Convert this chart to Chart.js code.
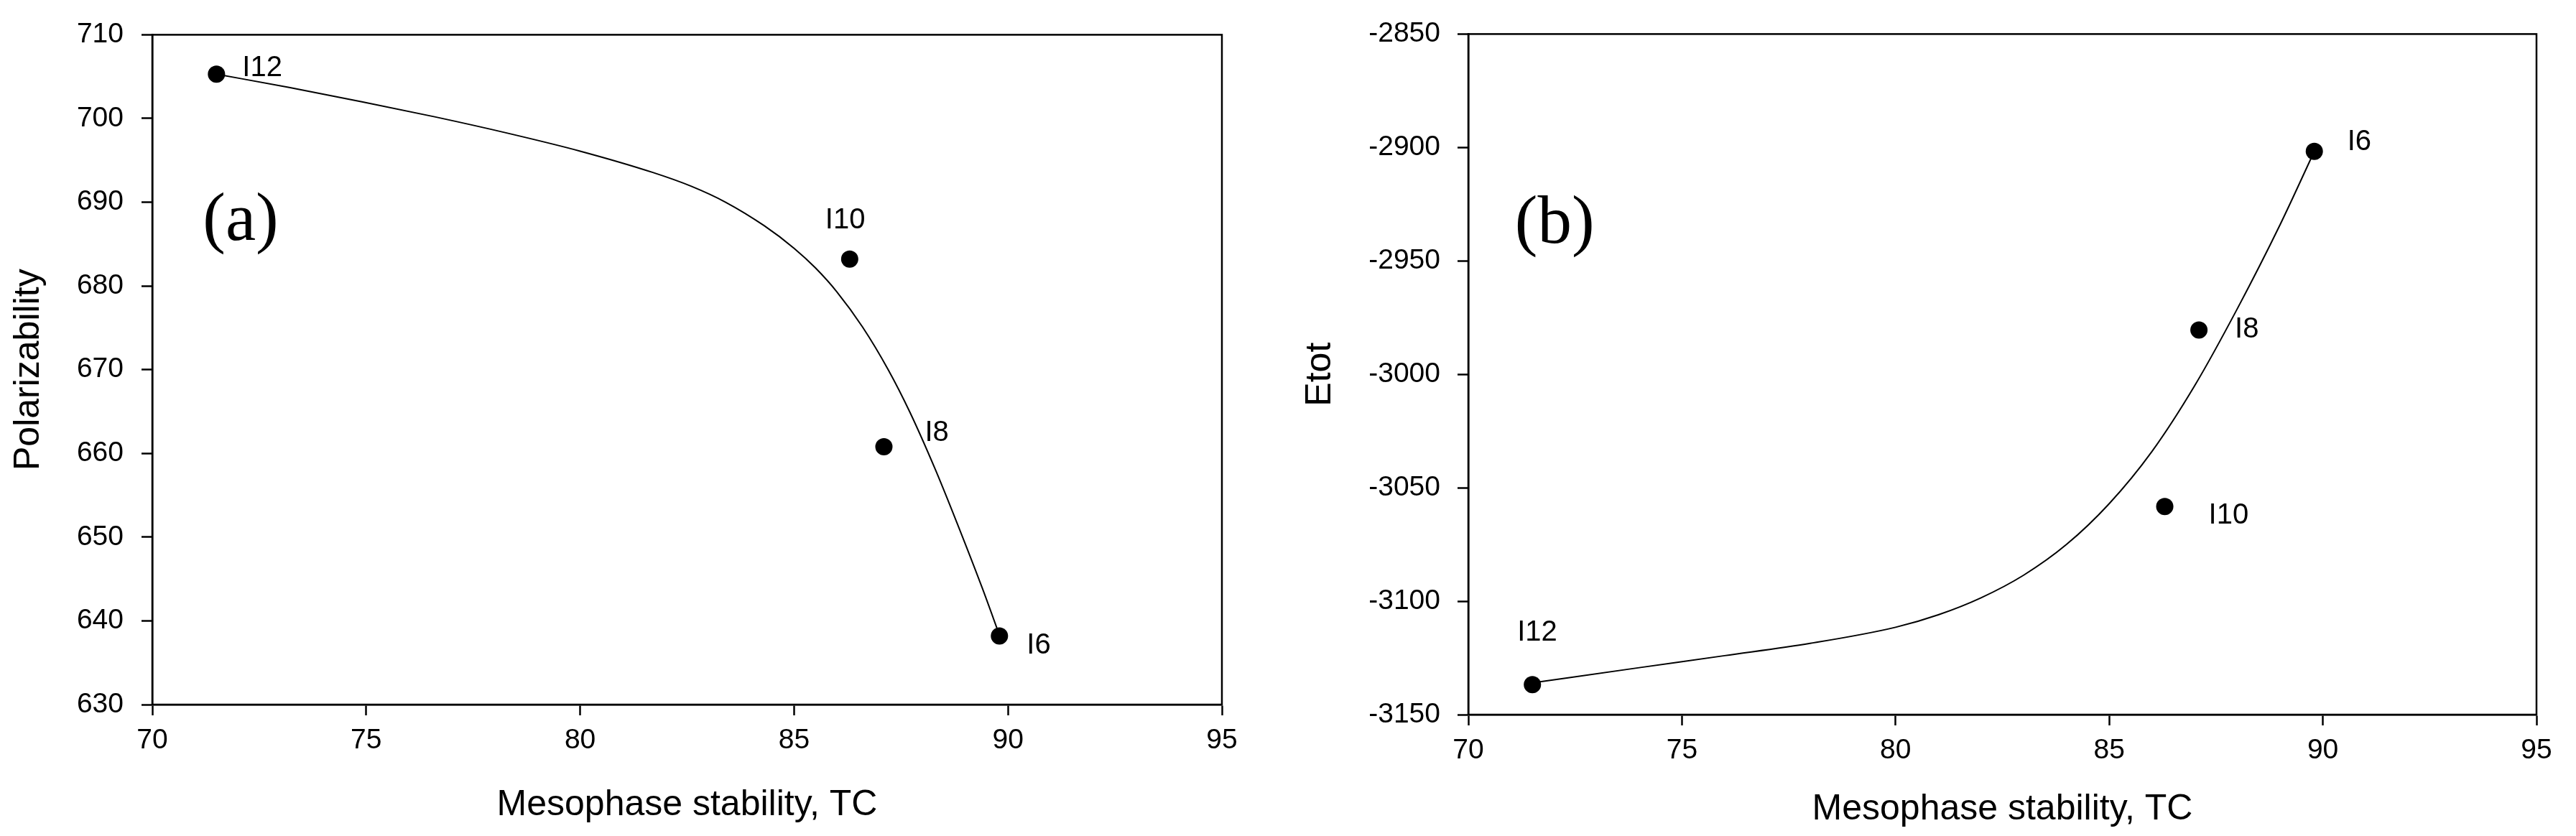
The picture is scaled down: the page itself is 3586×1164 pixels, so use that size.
<!DOCTYPE html>
<html>
<head>
<meta charset="utf-8">
<script src="https://cdn.jsdelivr.net/npm/chart.js@4.4.1/dist/chart.umd.min.js"></script>
<style>
  html, body { margin: 0; padding: 0; background: #fff; }
  body { width: 3586px; height: 1164px; position: relative; overflow: hidden; }
  .panel { position: absolute; top: 0; height: 1164px; }
  #panelA { left: 0; width: 1790px; }
  #panelB { left: 1790px; width: 1796px; }
</style>
</head>
<body>
<div class="panel" id="panelA"><canvas id="chartA" width="1790" height="1164"></canvas></div>
<div class="panel" id="panelB"><canvas id="chartB" width="1796" height="1164"></canvas></div>
<script>
// compounds and measured values
const compounds = ['I12', 'I10', 'I8', 'I6'];
const mesophaseTC = [71.5, 86.3, 87.1, 89.8];
const polarizability = [705.3, 683.2, 660.8, 638.2];
const etot = [-3136.8, -3058.3, -2980.5, -2901.7];

// fitted curves
const fitPolX = [71.5, 73.2, 74.9, 76.6, 78.3, 80.0, 81.7, 82.6, 83.4, 84.3, 85.0, 85.5, 86.0, 86.6, 87.2, 87.7, 88.3, 88.8, 89.4, 89.8];
const fitPolY = [705.3, 703.7, 702.0, 700.2, 698.25, 696.1, 693.55, 691.9, 690.0, 687.2, 684.5, 682.15, 679.3, 675.1, 670.0, 665.0, 658.1, 651.8, 643.9, 638.3];
const fitEtotX = [71.5, 74.0, 76.0, 78.0, 80.0, 81.0, 82.0, 83.0, 84.0, 85.0, 86.0, 87.0, 88.0, 89.0, 89.8];
const fitEtotY = [-3136.0, -3129.3, -3124.0, -3118.6, -3111.5, -3106.0, -3098.5, -3088.5, -3075.0, -3057.0, -3034.0, -3005.0, -2971.0, -2934.0, -2901.7];

// axis ticks
const xTicks = [70, 75, 80, 85, 90, 95];
const polTicks = [630, 640, 650, 660, 670, 680, 690, 700, 710];
const etotTicks = [-3150, -3100, -3050, -3000, -2950, -2900, -2850];

const SANS = '"Liberation Sans", Arial, sans-serif';

const zip = (xs, ys) => xs.map((x, i) => ({ x: x, y: ys[i] }));

//-----------------Plugins-------------------//
const frame = {
  id: 'frame',
  afterDraw(chart) {
    const { ctx, chartArea: a } = chart;
    ctx.save();
    ctx.strokeStyle = '#000';
    ctx.lineWidth = 2.5;
    ctx.strokeRect(a.left, a.top, a.right - a.left, a.bottom - a.top);
    ctx.restore();
  }
};

const pointTags = {
  id: 'pointTags',
  afterDatasetsDraw(chart, args, opts) {
    const ctx = chart.ctx;
    const meta = chart.getDatasetMeta(0);
    ctx.save();
    ctx.fillStyle = '#000';
    ctx.textAlign = 'left';
    ctx.textBaseline = 'alphabetic';
    ctx.font = '40px ' + SANS;
    meta.data.forEach((pt, i) => {
      const off = opts.offsets[i];
      ctx.fillText(compounds[i], pt.x + off[0], pt.y + off[1]);
    });
    ctx.font = '95px "Liberation Serif", "Times New Roman", serif';
    ctx.fillText(opts.panel,
      chart.scales.x.getPixelForValue(opts.panelAt[0]),
      chart.scales.y.getPixelForValue(opts.panelAt[1]));
    ctx.restore();
  }
};
//-----------------Plugins-------------------//

function axisGrid() {
  return { display: true, drawOnChartArea: false, drawTicks: true, tickLength: 15, tickWidth: 2.5, tickColor: '#000' };
}

function makeChart(id, cfg) {
  return new Chart(document.getElementById(id), {
    type: 'scatter',
    data: {
      datasets: [
        {
          data: zip(mesophaseTC, cfg.values),
          showLine: false,
          pointRadius: 12,
          pointHoverRadius: 12,
          pointBackgroundColor: '#000',
          pointBorderWidth: 0,
          order: 0
        },
        {
          data: zip(cfg.fitX, cfg.fitY),
          showLine: true,
          borderColor: '#000',
          borderWidth: 2,
          pointRadius: 0,
          cubicInterpolationMode: 'monotone',
          fill: false,
          order: 1
        }
      ]
    },
    options: {
      responsive: false,
      animation: false,
      devicePixelRatio: 1,
      layout: { padding: cfg.padding },
      plugins: {
        legend: { display: false },
        tooltip: { enabled: false },
        pointTags: { offsets: cfg.tagOffsets, panel: cfg.panel, panelAt: cfg.panelAt }
      },
      scales: {
        x: {
          type: 'linear',
          min: xTicks[0],
          max: xTicks[xTicks.length - 1],
          afterBuildTicks: s => { s.ticks = xTicks.map(v => ({ value: v })); },
          afterFit: s => { s.height = cfg.xHeight; },
          grid: axisGrid(),
          border: { display: true, color: '#000', width: 2.5 },
          ticks: { color: '#000', padding: 12, font: { family: SANS, size: 39 }, callback: v => String(v) },
          title: {
            display: true,
            text: 'Mesophase stability, TC',
            color: '#000',
            font: { family: SANS, size: 50, lineHeight: 1.2 },
            padding: { top: 0, bottom: cfg.xTitlePad }
          }
        },
        y: {
          type: 'linear',
          min: cfg.yTicks[0],
          max: cfg.yTicks[cfg.yTicks.length - 1],
          afterBuildTicks: s => { s.ticks = cfg.yTicks.map(v => ({ value: v })); },
          afterFit: s => { s.width = cfg.yWidth; },
          grid: axisGrid(),
          border: { display: true, color: '#000', width: 2.5 },
          ticks: { color: '#000', padding: cfg.yTickPad, font: { family: SANS, size: 39 }, callback: v => String(v) },
          title: {
            display: true,
            text: cfg.yTitle,
            color: '#000',
            font: { family: SANS, size: 50, lineHeight: 1.2 },
            padding: { top: cfg.yTitlePad, bottom: 0 }
          }
        }
      }
    },
    plugins: [frame, pointTags]
  });
}

makeChart('chartA', {
  values: polarizability,
  fitX: fitPolX,
  fitY: fitPolY,
  yTicks: polTicks,
  yTitle: 'Polarizability',
  padding: { left: 0, right: 89, top: 28, bottom: 0 },
  yWidth: 212,
  xHeight: 183,
  yTickPad: 25,
  yTitlePad: 10,
  xTitlePad: 13,
  tagOffsets: [[36, 3], [-34, -43], [57, -8], [38, 25]],
  panel: '(a)',
  panelAt: [71.18, 685.5]
});

makeChart('chartB', {
  values: etot,
  fitX: fitEtotX,
  fitY: fitEtotY,
  yTicks: etotTicks,
  yTitle: 'Etot',
  padding: { left: 0, right: 55, top: 35, bottom: 0 },
  yWidth: 254,
  xHeight: 169,
  yTickPad: 24,
  yTitlePad: 18,
  xTitlePad: 7,
  tagOffsets: [[-21, -61], [61, 24], [50, 10], [46, -2]],
  panel: '(b)',
  panelAt: [71.09, -2941.9]
});
</script>
</body>
</html>
